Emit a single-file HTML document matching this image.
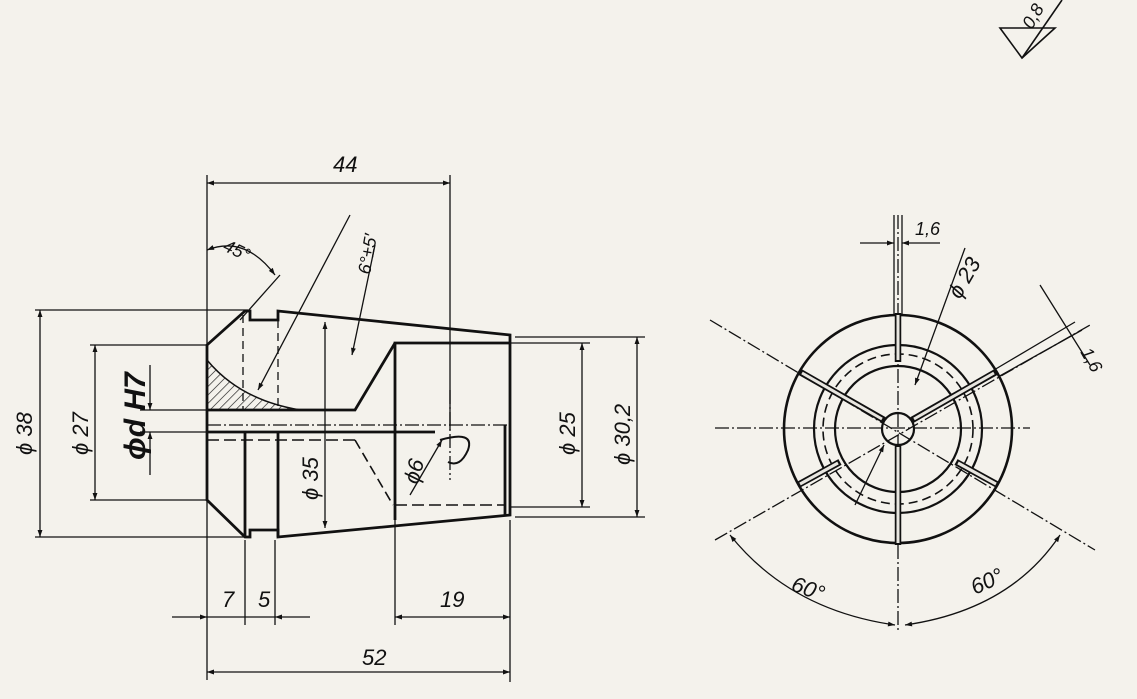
<!DOCTYPE html>
<html><head><meta charset="utf-8"><style>
html,body{margin:0;padding:0;background:#f4f2ec;}
svg{display:block}
text{font-family:"Liberation Sans",sans-serif;font-style:italic;fill:#111}
</style></head><body>
<svg width="1137" height="699" viewBox="0 0 1137 699" xmlns="http://www.w3.org/2000/svg">
<defs>
<marker id="a" viewBox="0 0 10 10" refX="10" refY="5" markerWidth="20" markerHeight="7" orient="auto-start-reverse" markerUnits="userSpaceOnUse"><path d="M0,1.5 L10,5 L0,8.5z" fill="#111"/></marker>
<pattern id="h" width="6" height="6" patternUnits="userSpaceOnUse" patternTransform="rotate(45)"><line x1="0" y1="0" x2="0" y2="6" stroke="#111" stroke-width="1.3"/></pattern>
</defs>
<rect width="1137" height="699" fill="#f4f2ec"/>
<g stroke="#111" fill="none" stroke-width="1.3">
<line x1="207" y1="175" x2="207" y2="680"/>
<line x1="450" y1="175" x2="450" y2="430"/>
<line x1="510" y1="520" x2="510" y2="682"/>
<line x1="395" y1="520" x2="395" y2="625"/>
<line x1="245" y1="540" x2="245" y2="625"/>
<line x1="275" y1="540" x2="275" y2="625"/>
<line x1="207" y1="183" x2="450" y2="183" marker-start="url(#a)" marker-end="url(#a)"/>
<line x1="207" y1="672" x2="510" y2="672" marker-start="url(#a)" marker-end="url(#a)"/>
<line x1="172" y1="617" x2="207" y2="617" marker-end="url(#a)"/>
<line x1="207" y1="617" x2="275" y2="617"/>
<line x1="310" y1="617" x2="275" y2="617" marker-end="url(#a)"/>
<line x1="395" y1="617" x2="510" y2="617" marker-start="url(#a)" marker-end="url(#a)"/>
<line x1="35" y1="310" x2="248" y2="310"/>
<line x1="35" y1="537" x2="248" y2="537"/>
<line x1="40" y1="310" x2="40" y2="537" marker-start="url(#a)" marker-end="url(#a)"/>
<line x1="90" y1="345" x2="207" y2="345"/>
<line x1="90" y1="500" x2="207" y2="500"/>
<line x1="95" y1="345" x2="95" y2="500" marker-start="url(#a)" marker-end="url(#a)"/>
<line x1="150" y1="365" x2="150" y2="410" marker-end="url(#a)"/>
<line x1="150" y1="475" x2="150" y2="432" marker-end="url(#a)"/>
<line x1="140" y1="410" x2="207" y2="410"/>
<line x1="140" y1="432" x2="207" y2="432"/>
<line x1="325" y1="322" x2="325" y2="528" marker-start="url(#a)" marker-end="url(#a)"/>
<line x1="510" y1="343" x2="590" y2="343"/>
<line x1="510" y1="507" x2="590" y2="507"/>
<line x1="582" y1="343" x2="582" y2="507" marker-start="url(#a)" marker-end="url(#a)"/>
<line x1="515" y1="337" x2="645" y2="337"/>
<line x1="515" y1="517" x2="645" y2="517"/>
<line x1="637" y1="337" x2="637" y2="517" marker-start="url(#a)" marker-end="url(#a)"/>
<g stroke-width="2.8">
<path d="M207,345 L245,311 L250,311 L250,320 L278,320 L278,311 L510,335 L510,515 L278,537 L278,530 L250,530 L250,537 L245,537 L207,500 Z"/>
<line x1="245" y1="432" x2="245" y2="537"/>
<line x1="278" y1="432" x2="278" y2="537"/>
<path d="M395,520 L395,343 L510,343"/>
<path d="M207,410 L300,410 L355,410 L395,343"/>
<line x1="207" y1="432" x2="435" y2="432"/>
<line x1="505" y1="425" x2="505" y2="515"/>
</g>
<path d="M207,360 L207,410 L300,410 Q240,400 207,360z" fill="url(#h)" stroke="#111" stroke-width="1.5"/>
<line x1="207" y1="425" x2="510" y2="425" stroke-dasharray="14,3,2,3"/>
<line x1="243" y1="315" x2="243" y2="410" stroke-dasharray="8,5"/>
<line x1="278" y1="320" x2="278" y2="410" stroke-dasharray="8,5"/>
<line x1="207" y1="440" x2="355" y2="440" stroke-dasharray="12,5" stroke-width="1.6"/>
<line x1="355" y1="440" x2="393" y2="505" stroke-dasharray="10,5" stroke-width="1.6"/>
<line x1="395" y1="505" x2="505" y2="505" stroke-dasharray="12,5" stroke-width="1.6"/>
<line x1="450" y1="390" x2="450" y2="480" stroke-dasharray="14,3,2,3"/>
<line x1="350" y1="215" x2="258" y2="390" marker-end="url(#a)"/>
<line x1="375" y1="245" x2="352" y2="355" marker-end="url(#a)"/>
<path d="M207,250 Q245,235 275,275" marker-start="url(#a)" marker-end="url(#a)"/>
<line x1="280" y1="275" x2="240" y2="320"/>
<line x1="410" y1="495" x2="442" y2="440" marker-end="url(#a)"/>
<path d="M440,440 Q475,430 468,450 Q460,468 448,462" stroke-width="2"/>
<!-- right view -->
<circle cx="898" cy="429" r="114" stroke-width="2.6"/>
<circle cx="898" cy="429" r="84" stroke-width="2.2"/>
<circle cx="898" cy="429" r="75" stroke-dasharray="9,5" stroke-width="1.6"/>
<circle cx="898" cy="429" r="63" stroke-width="2.2"/>
<circle cx="898" cy="429" r="16" stroke-width="2.2"/>
<line x1="715" y1="428" x2="1030" y2="428" stroke-dasharray="14,3,2,3"/>
<line x1="898" y1="215" x2="898" y2="630" stroke-dasharray="14,3,2,3"/>
<line x1="710" y1="320" x2="1095" y2="550" stroke-dasharray="14,3,2,3"/>
<line x1="715" y1="540" x2="1090" y2="325" stroke-dasharray="14,3,2,3"/>
<g stroke-width="6.5" stroke="#111"><line x1="898" y1="445" x2="898" y2="545"/><line x1="884" y1="420" x2="800" y2="372"/><line x1="912" y1="420" x2="996" y2="372"/><line x1="898" y1="313" x2="898" y2="362"/><line x1="798" y1="485" x2="840" y2="462"/><line x1="998" y1="485" x2="956" y2="462"/></g>
<g stroke-width="3" stroke="#e8e6e0"><line x1="898" y1="447" x2="898" y2="543"/><line x1="882" y1="419" x2="802" y2="373"/><line x1="914" y1="419" x2="994" y2="373"/><line x1="898" y1="315" x2="898" y2="360"/><line x1="800" y1="484" x2="838" y2="463"/><line x1="996" y1="484" x2="958" y2="463"/></g>
<line x1="894" y1="215" x2="894" y2="315"/>
<line x1="902" y1="215" x2="902" y2="315"/>
<line x1="860" y1="243" x2="894" y2="243" marker-end="url(#a)"/>
<line x1="940" y1="243" x2="902" y2="243" marker-end="url(#a)"/>
<line x1="1040" y1="285" x2="1090" y2="365"/>
<line x1="994" y1="370" x2="1075" y2="322"/>
<line x1="998" y1="377" x2="1082" y2="330"/>
<line x1="965" y1="248" x2="915" y2="385" marker-end="url(#a)"/>
<line x1="855" y1="505" x2="884" y2="445" marker-end="url(#a)"/>
<path d="M730,535 Q790,610 895,625" marker-start="url(#a)" marker-end="url(#a)"/>
<path d="M1060,535 Q1010,610 905,625" marker-start="url(#a)" marker-end="url(#a)"/>
<path d="M1000,28 L1055,28 L1022,58 Z" stroke-width="1.6"/>
<line x1="1022" y1="58" x2="1062" y2="0" stroke-width="1.6"/>
</g>
<g font-size="22">
<text x="333" y="172">44</text>
<text x="362" y="665">52</text>
<text x="222" y="607">7</text>
<text x="258" y="607">5</text>
<text x="440" y="607">19</text>
<text transform="translate(32,455) rotate(-90)">ϕ 38</text>
<text transform="translate(88,455) rotate(-90)">ϕ 27</text>
<text transform="translate(145,460) rotate(-90)" font-size="30" font-weight="bold">ϕd H7</text>
<text transform="translate(318,500) rotate(-90)">ϕ 35</text>
<text transform="translate(575,455) rotate(-90)">ϕ 25</text>
<text transform="translate(630,465) rotate(-90)">ϕ 30,2</text>
<text transform="translate(418,485) rotate(-75)">ϕ6</text>
<text transform="translate(222,250) rotate(25)" font-size="18">45°</text>
<text transform="translate(370,275) rotate(-80)" font-size="18">6°±5′</text>
<text transform="translate(790,590) rotate(20)">60°</text>
<text transform="translate(975,595) rotate(-25)">60°</text>
<text x="915" y="235" font-size="18">1,6</text>
<text transform="translate(960,300) rotate(-60)">ϕ 23</text>
<text transform="translate(1080,352) rotate(60)" font-size="18">1,6</text>
<text transform="translate(1032,30) rotate(-60)" font-size="18">0,8</text>
</g>
</svg>
</body></html>
